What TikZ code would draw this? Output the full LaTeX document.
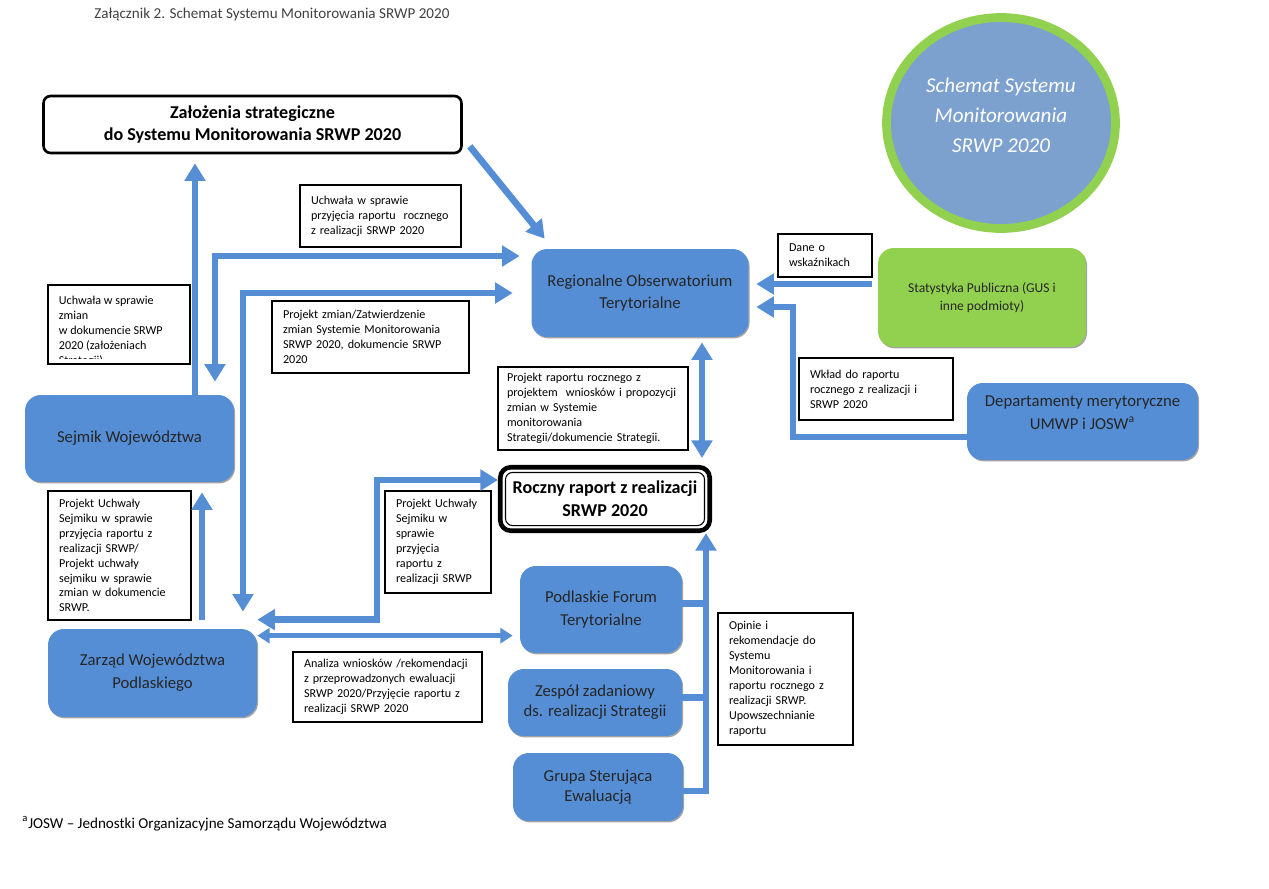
\documentclass[tikz,border=0pt]{standalone}
\usepackage{fontspec}
\setmainfont{Carlito}
\usetikzlibrary{arrows.meta,shapes.geometric,shadows}
\definecolor{boxblue}{RGB}{85,142,213}
\definecolor{circblue}{RGB}{124,161,206}
\definecolor{statgreen}{RGB}{146,208,80}

\begin{document}
\begin{tikzpicture}
[
    x=0.02cm, y=-0.02cm,
    organ/.style={shape=rectangle, rounded corners=9pt, fill=boxblue, text=black!85, align=center, font=\fontsize{9.5}{13}\selectfont, drop shadow={shadow xshift=0.6pt, shadow yshift=-0.8pt, fill=black!60, opacity=0.6}},
    stat/.style={organ, fill=statgreen, font=\fontsize{7.7}{10.2}\selectfont},
    note/.style={shape=rectangle, draw, line width=0.6pt, fill=white, align=left, font=\fontsize{6.9}{8.5}\selectfont},
    headbox/.style={shape=rectangle, rounded corners=4pt, draw, line width=1.5pt, fill=white, align=center, font=\bfseries\fontsize{10.3}{13}\selectfont},
    report/.style={headbox, rounded corners=6pt, line width=2.6pt},
    flow/.style={draw=boxblue, line width=3.8pt, -{Triangle[length=10pt, width=11.5pt]}},
    dflow/.style={flow, {Triangle[length=10pt, width=11.5pt]}-{Triangle[length=10pt, width=11.5pt]}},
    thinflow/.style={draw=boxblue, line width=2.6pt, {Triangle[length=7pt, width=8.5pt]}-{Triangle[length=7pt, width=8.5pt]}},
    branch/.style={draw=boxblue, line width=3.8pt},
]
\useasboundingbox (0,0) rectangle (1269,889);

\node[anchor=base west, inner sep=0pt, text=black!75, font=\fontsize{8.6}{10}\selectfont] (title) at (94,18) {Załącznik 2. Schemat Systemu Monitorowania SRWP 2020};

\node[headbox, minimum width=8.36cm, minimum height=1.14cm] (zalozenia) at (252.5,124.5) {Założenia strategiczne\\do Systemu Monitorowania SRWP 2020};

\node[ellipse, draw=statgreen, line width=5pt, fill=circblue, minimum width=4.58cm, minimum height=4.22cm] (circ) at (1001,123) {};
\node[text=white, align=center, font=\itshape\fontsize{12}{17}\selectfont] (circtext) at ([yshift=0.16cm]circ.center) {Schemat Systemu\\Monitorowania\\SRWP 2020};

\node[organ, minimum width=4.34cm, minimum height=1.76cm] (rot) at (640,293) {Regionalne Obserwatorium\\Terytorialne};
\node[organ, minimum width=4.18cm, minimum height=1.74cm] (sejmik) at (129.5,438.5) {Sejmik Województwa};
\node[organ, minimum width=4.18cm, minimum height=1.76cm] (zarzad) at (152.5,673) {Zarząd Województwa\\Podlaskiego};
\node[stat, minimum width=4.16cm, minimum height=1.98cm] (statystyka) at (982,297.5) {Statystyka Publiczna (GUS i\\inne podmioty)};
\node[organ, minimum width=4.62cm, minimum height=1.54cm, text depth=10.5pt] (depart) at (1082.5,421.5) {Departamenty merytoryczne\\UMWP i JOSW\textsuperscript{a}};
\node[report, minimum width=4.19cm, minimum height=1.27cm] (roczny) at (605,499) {Roczny raport z realizacji\\SRWP 2020};
\draw[line width=0.6pt, rounded corners=4pt] ([shift={(0.15cm,-0.15cm)}]roczny.north west) rectangle ([shift={(-0.15cm,0.15cm)}]roczny.south east);
\node[organ, minimum width=3.24cm, minimum height=1.74cm] (forum) at (601,609.5) {Podlaskie Forum\\Terytorialne};
\node[organ, minimum width=3.48cm, minimum height=1.34cm, font=\fontsize{9.5}{11.5}\selectfont] (zespol) at (595,702.5) {Zespół zadaniowy\\ds. realizacji Strategii};
\node[organ, minimum width=3.40cm, minimum height=1.36cm, font=\fontsize{9.5}{11.5}\selectfont] (grupa) at (598,787) {Grupa Sterująca\\Ewaluacją};

\node[note, text width=2.78cm, minimum width=3.22cm, minimum height=1.24cm] (uchwroczny) at (380.5,216) {Uchwała w sprawie\\przyjęcia raportu~ rocznego\\z realizacji SRWP 2020};
\node[note, minimum width=2.84cm, minimum height=1.58cm] (uchwzmian) at (119,324.5) {};
\begin{scope}
    \clip ([shift={(0.02cm,-0.02cm)}]uchwzmian.north west) rectangle ([shift={(-0.02cm,0.12cm)}]uchwzmian.south east);
    \node[note, draw=none, fill=none, anchor=north west] (uchwzmiantext) at ([shift={(0.1cm,-0.1cm)}]uchwzmian.north west) {Uchwała w sprawie\\zmian\\w dokumencie SRWP\\2020 (założeniach\\Strategii)};
\end{scope}
\node[note, text width=3.50cm, minimum width=3.94cm, minimum height=1.44cm] (projzmian) at (370.5,337) {Projekt zmian/Zatwierdzenie\\zmian Systemie Monitorowania\\SRWP 2020, dokumencie SRWP\\2020};
\node[note, text width=3.44cm, minimum width=3.80cm, minimum height=1.66cm] (projraport) at (593,408.5) {Projekt raportu rocznego z\\projektem~ wniosków i propozycji\\zmian w Systemie\\monitorowania\\Strategii/dokumencie Strategii.};
\node[note, text width=2.42cm, minimum width=2.86cm, minimum height=2.58cm] (projuchwl) at (119.5,555.5) {Projekt Uchwały\\Sejmiku w sprawie\\przyjęcia raportu z\\realizacji SRWP/\\Projekt uchwały\\sejmiku w sprawie\\zmian w dokumencie\\SRWP.};
\node[note, text width=1.68cm, minimum width=2.12cm, minimum height=2.04cm] (projuchwr) at (438,542) {Projekt Uchwały\\Sejmiku w\\sprawie\\przyjęcia\\raportu z\\realizacji SRWP};
\node[note, text width=3.34cm, minimum width=3.78cm, minimum height=1.40cm] (analiza) at (387.5,687) {Analiza wniosków /rekomendacji\\z przeprowadzonych ewaluacji\\SRWP 2020/Przyjęcie raportu z\\realizacji SRWP 2020};
\node[note, text width=2.26cm, minimum width=2.70cm, minimum height=2.64cm] (opinie) at (785.5,679) {Opinie i\\rekomendacje do\\Systemu\\Monitorowania i\\raportu rocznego z\\realizacji SRWP.\\Upowszechnianie\\raportu};
\node[note, text width=1.44cm, minimum width=1.88cm, minimum height=0.86cm] (dane) at (825,255.5) {Dane o\\wskaźnikach};
\node[note, text width=2.64cm, minimum width=3.08cm, minimum height=1.24cm] (wklad) at (876,389) {Wkład do raportu\\rocznego z realizacji i\\SRWP 2020};

\node[anchor=base west, inner sep=0pt, font=\fontsize{8.6}{10}\selectfont] (footnote) at (22,828) {\textsuperscript{a}JOSW – Jednostki Organizacyjne Samorządu Województwa};

\coordinate (zr) at (377,550);
\coordinate (dk) at (793,380);
\coordinate (rs) at ([xshift=2.02cm]roczny.south);

\draw[flow, shorten >=0.18cm] ([xshift=1.31cm]sejmik.north) coordinate (s1) -- (s1 |- zalozenia.south);
\draw[dflow, shorten <=0.26cm, shorten >=0.23cm] ([xshift=1.71cm]sejmik.north) |- ([yshift=0.74cm]rot.west);
\draw[dflow, shorten <=0.34cm, shorten >=0.37cm] ([xshift=1.81cm]zarzad.north) |- (rot.west);
\draw[flow] ([shift={(0.14cm,0.16cm)}]zalozenia.south east) -- ([shift={(0.27cm,0.2cm)}]rot.north west);
\draw[flow, shorten <=0.18cm, shorten >=0.2cm] ([xshift=0.99cm]zarzad.north) coordinate (z1) -- (z1 |- sejmik.south);
\draw[dflow] ([yshift=0.38cm]roczny.west) -| (zr) |- ([yshift=0.18cm]zarzad.north east);
\draw[thinflow, shorten >=0.14cm] ([yshift=-0.14cm]zarzad.north east) coordinate (z2) -- (z2 -| forum.west);
\draw[dflow, shorten <=0.1cm, shorten >=0.14cm] ([xshift=1.24cm]rot.south) coordinate (r1) -- (r1 |- roczny.north);
\draw[flow, shorten <=0.12cm, shorten >=0.15cm] ([yshift=0.27cm]statystyka.west) coordinate (st) -- (st -| rot.east);
\draw[flow, shorten >=0.15cm] ([yshift=-0.31cm]depart.west) -| (dk) |- ([yshift=-0.28cm]rot.east);
\draw[flow] ([yshift=-0.08cm]grupa.east) -| (rs);
\draw[branch] ([yshift=0.12cm]forum.east) coordinate (f1) -- (f1 -| rs);
\draw[branch] ([yshift=0.1cm]zespol.east) coordinate (f2) -- (f2 -| rs);
\end{tikzpicture}
\end{document}
